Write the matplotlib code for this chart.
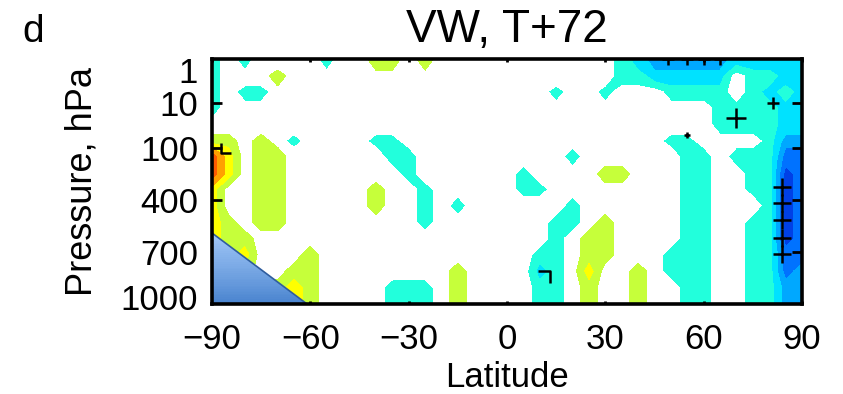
import numpy as np
import matplotlib
matplotlib.use('Agg')
import matplotlib.pyplot as plt
from matplotlib.colors import LinearSegmentedColormap
from matplotlib.patches import Polygon
from matplotlib.path import Path

plt.rcParams['font.family'] = ['Liberation Sans', 'DejaVu Sans']

# grid: latitude every 5 deg, model levels (hPa)
lats = np.arange(-90, 91, 5)
plevs = [0.5, 1.5, 4.5, 13, 30, 70, 125, 200, 300, 425, 510, 605, 715, 815, 930, 1050]

# field coded by contour band: e..a negative, '.' ~0, 1..4 positive
rows = [
    "a.a....a..11.1" + "..........." + "abcccccbbbbb",
    "a...1" + "." * 20 + "aabbbbb.aabb",
    "a.aa" + "." * 17 + "a..a...aaaa.abab",
    "a" + "." * 30 + "aaaabb",
    "." * 31 + "aaaabb",
    "11.1.a....aa" + "." * 16 + "aa....acc",
    "42.11" + "." * 6 + "aa" + "." * 9 + "a" + "." * 6 + "aa.aaadd",
    "42.11" + "." * 7 + "a" + "." * 6 + "a" + "." * 4 + "11..." + "aa..aaed",
    "2..11" + "....." + "1..a" + "....." + "aa" + "." * 8 + "aa..aaed",
    "2..11" + "....." + "1..a.a" + "......" + "a" + "......" + "aa...aed",
    "21.11" + "." * 8 + "a" + "." * 7 + "aa.1...." + "aa..aaed",
    "211" + "." * 18 + "a.11...." + "aa..aaed",
    "212...1" + "." * 13 + "aa.11...a" + "aa..aadd",
    "111..11" + "." * 8 + "1...." + "ba.2..1.a" + "aa..aadc",
    "1111121" + "...." + "aaa.1...." + "aa.1..1.." + "aa..aacc",
    "1111121" + "...." + "aaa.1...." + "aa.1..1.." + "aa..aacc",
]
code = {'e': -5, 'd': -4, 'c': -3, 'b': -2, 'a': -1, '.': 0,
        '1': 1, '2': 2, '3': 3, '4': 4}
field = np.array([[code[ch] for ch in r] for r in rows], dtype=float)

bounds = np.arange(-5.5, 5, 1.0)
band_colors = ['#0040E6', '#0072FF', '#00A8FF', '#00E2FF', '#22FFDC',
               'white', '#C6FF3A', '#FFFF00', '#FFA000', '#FF5A00']

# topography mask (Antarctica)
topo_lat = [-90, -61, -90]
topo_p = [570, 1050, 1050]

# significance markers
sig_lat = [70, 81, 55, 84, 84, 84, 84, 84, 49, 55, 60, 65]
sig_p = [21, 10, 51, 281, 413, 495, 603, 711, 0.5, 0.5, 0.5, 0.5]
sig_size = [15, 9, 5, 13, 13, 13, 13, 13, 8, 8, 8, 8]
corner_lat = [11.3]
corner_p = [854]
ell_lat = [-85.7]
ell_p = [100]

xticks = [-90, -60, -30, 0, 30, 60, 90]
xticklabels = ['\u221290', '\u221260', '\u221230', '0', '30', '60', '90']
tick_p = [1, 10, 100, 400, 700, 1000]
tick_labels = ['1', '10', '100', '400', '700', '1000']

# vertical axis: model-level spacing, anchored at the labelled pressures
anchor_p = np.log10([0.5, 1, 10, 100, 400, 700, 1000, 1050])
anchor_y = np.array([0.0, 0.045, 0.18, 0.363, 0.576, 0.788, 0.971, 1.0])


def fwd(p):
    return np.interp(np.log10(np.clip(p, 1e-3, None)), anchor_p, anchor_y)


def inv(y):
    return 10 ** np.interp(y, anchor_y, anchor_p)


fig = plt.figure(figsize=(8.43, 3.94), dpi=100)
ax = fig.add_axes([212 / 843, 90 / 394, 590 / 843, 245 / 394])
ax.set_yscale('function', functions=(fwd, inv))

ax.contourf(lats, plevs, field, levels=bounds, colors=band_colors, zorder=1)

# shaded topography triangle
tri = Polygon(np.column_stack([topo_lat, topo_p]), closed=True,
              facecolor='none', edgecolor='#2f5d9e', lw=1.2, zorder=4)
ax.add_patch(tri)
blues = LinearSegmentedColormap.from_list('topo', ['#A2C8F8', '#4A84CF'])
yy = np.linspace(topo_p[0], topo_p[1], 40)
grad = ax.pcolormesh([topo_lat[0], topo_lat[1]], yy,
                     np.linspace(0, 1, len(yy) - 1)[:, None],
                     cmap=blues, shading='flat', zorder=3)
grad.set_clip_path(tri)

for la, pp, s in zip(sig_lat, sig_p, sig_size):
    ax.plot(la, pp, marker='+', ms=s, mew=1.8, color='k', zorder=5)
corner = Path([(-1, 1), (1, 1), (1, -1)])
ell = Path([(-1, 1), (-1, -1), (1, -1)])
ax.plot(corner_lat, corner_p, ls='none', marker=corner, ms=8, mew=1.8,
        mfc='none', mec='k', zorder=5)
ax.plot(ell_lat, ell_p, ls='none', marker=ell, ms=7, mew=1.8,
        mfc='none', mec='k', zorder=5)

ax.set_xlim(-90, 90)
ax.set_ylim(1050, 0.5)
ax.set_xticks(xticks)
ax.set_xticklabels(xticklabels)
ax.set_yticks(tick_p)
ax.set_yticklabels(tick_labels)
ax.minorticks_off()
ax.tick_params(axis='x', direction='in', length=2.5, width=2, top=True,
               bottom=True, labelsize=25, pad=14)
ax.tick_params(axis='y', direction='in', length=7, width=2, left=True,
               right=True, labelsize=25, pad=10)
yt = ax.yaxis.get_major_ticks()
for t in (yt[0], yt[-1]):
    t.tick1line.set_visible(False)
    t.tick2line.set_visible(False)
for sp in ax.spines.values():
    sp.set_linewidth(2.6)
    sp.set_zorder(10)

ax.set_xlabel('Latitude', fontsize=25, labelpad=3)
ax.set_ylabel('Pressure, hPa', fontsize=26, labelpad=15)
ax.set_title('VW, T+72', fontsize=33, pad=12)
fig.text(22 / 843, 1 - 42 / 394, 'd', fontsize=28, va='baseline')

fig.savefig('out.png', dpi=100)
